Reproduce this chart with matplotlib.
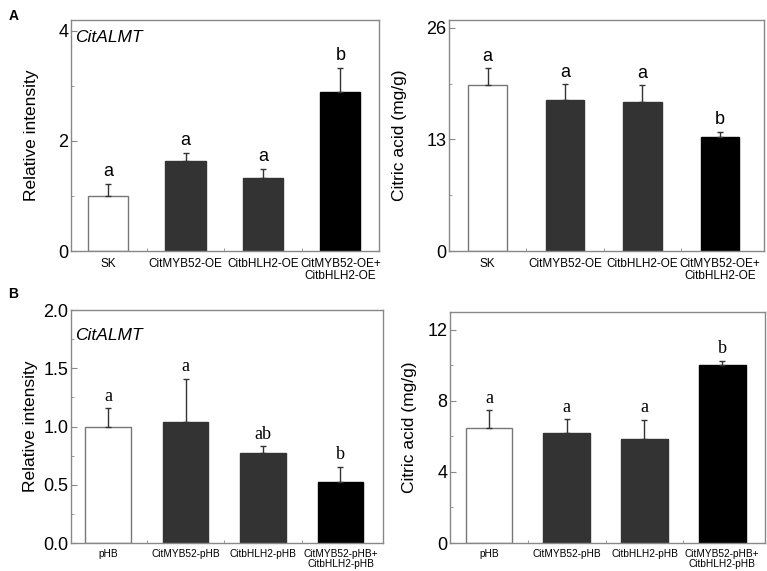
import numpy as np
from matplotlib import pyplot as plt
from matplotlib.ticker import MultipleLocator

# Panel A data
groups_a = ['SK', 'CitMYB52-OE', 'CitbHLH2-OE', 'CitMYB52-OE+\nCitbHLH2-OE']
rel_a = [1.0, 1.64, 1.33, 2.89]
rel_a_err = [0.22, 0.15, 0.17, 0.44]
rel_a_sig = ['a', 'a', 'a', 'b']
cit_a = [19.3, 17.6, 17.4, 13.3]
cit_a_err = [2.0, 1.8, 1.9, 0.6]
cit_a_sig = ['a', 'a', 'a', 'b']

# Panel B data
groups_b = ['pHB', 'CitMYB52-pHB', 'CitbHLH2-pHB', 'CitMYB52-pHB+\nCitbHLH2-pHB']
rel_b = [1.0, 1.04, 0.77, 0.525]
rel_b_err = [0.155, 0.37, 0.06, 0.13]
rel_b_sig = ['a', 'a', 'ab', 'b']
cit_b = [6.48, 6.2, 5.86, 10.03]
cit_b_err = [1.0, 0.78, 1.07, 0.22]
cit_b_sig = ['a', 'a', 'a', 'b']

plt.rcParams['font.family'] = ['Liberation Sans', 'DejaVu Sans']

face_colors = ['white', '#333333', '#333333', 'black']
edge_colors = ['#777777', '#333333', '#333333', 'black']
spine_color = '#888888'


def draw_panel(ax, groups, values, errors, sig, ylim, major, minor, ylabel, tick_fmt,
               width, sig_font, label_x, xlab_size, xlab_pad, gene_y=None, xlim=(-0.5, 3.5)):
    x = np.arange(len(groups))
    ax.bar(x, values, width=width, color=face_colors, edgecolor=edge_colors, linewidth=1.0, zorder=2)
    ax.errorbar(x, values, yerr=[np.zeros(len(values)), errors], fmt='none',
                ecolor='#333333', elinewidth=1.0, capsize=2.5, capthick=1.0, zorder=3)
    span = ylim[1] - ylim[0]
    for xi, v, e, s in zip(x, values, errors, sig):
        ax.text(xi, v + e + span * 0.015, s, ha='center', va='bottom',
                fontsize=13, family=sig_font)
    ax.set_xlim(*xlim)
    ax.set_ylim(*ylim)
    ax.set_xticks(x)
    ax.set_xticklabels(groups, fontsize=xlab_size, linespacing=1.05)
    ax.set_xticks(x[:-1] + 0.5, minor=True)
    ax.yaxis.set_major_locator(MultipleLocator(major))
    ax.yaxis.set_minor_locator(MultipleLocator(minor))
    ax.yaxis.set_major_formatter(tick_fmt)
    ax.tick_params(axis='y', which='major', direction='in', length=4, labelsize=13,
                   color=spine_color, pad=2)
    ax.tick_params(axis='y', which='minor', direction='in', length=2, color=spine_color)
    ax.tick_params(axis='x', which='both', direction='in', length=2, color=spine_color,
                   pad=xlab_pad)
    for sp in ax.spines.values():
        sp.set_color(spine_color)
        sp.set_linewidth(1.0)
    ax.set_ylabel(ylabel, fontsize=12.5)
    ax.yaxis.set_label_coords(label_x, 0.5)
    if gene_y is not None:
        ax.text(0.013, gene_y, 'CitALMT', transform=ax.transAxes, ha='left', va='top',
                fontsize=12.5, style='italic')


fig = plt.figure(figsize=(7.67, 5.71), dpi=100)

ax1 = fig.add_axes([0.0926, 0.5604, 0.4016, 0.4046])
draw_panel(ax1, groups_a, rel_a, rel_a_err, rel_a_sig, (0, 4.2), 2, 1,
           'Relative intensity', '{x:.0f}', 0.52, 'Liberation Sans', -0.104, 8.5, 5,
           gene_y=0.955, xlim=(-0.48, 3.5))

ax2 = fig.add_axes([0.5854, 0.5604, 0.4107, 0.4046])
draw_panel(ax2, groups_a, cit_a, cit_a_err, cit_a_sig, (0, 26.9), 13, 6.5,
           'Citric acid (mg/g)', '{x:.0f}', 0.5, 'Liberation Sans', -0.133, 8.5, 5,
           xlim=(-0.5, 3.57))

ax3 = fig.add_axes([0.0926, 0.049, 0.4068, 0.408])
draw_panel(ax3, groups_b, rel_b, rel_b_err, rel_b_sig, (0, 2.0), 0.5, 0.25,
           'Relative intensity', '{x:.1f}', 0.59, 'Liberation Serif', -0.106, 7.3, 4,
           gene_y=0.925, xlim=(-0.48, 3.55))

ax4 = fig.add_axes([0.5867, 0.049, 0.4107, 0.4046])
draw_panel(ax4, groups_b, cit_b, cit_b_err, cit_b_sig, (0, 13.0), 4, 2,
           'Citric acid (mg/g)', '{x:.0f}', 0.6, 'Liberation Serif', -0.105, 7.3, 4,
           xlim=(-0.5, 3.55))

fig.text(0.011, 0.972, 'A', fontsize=10, fontweight='bold', va='center')
fig.text(0.011, 0.485, 'B', fontsize=10, fontweight='bold', va='center')

plt.savefig('out.png', dpi=100)
